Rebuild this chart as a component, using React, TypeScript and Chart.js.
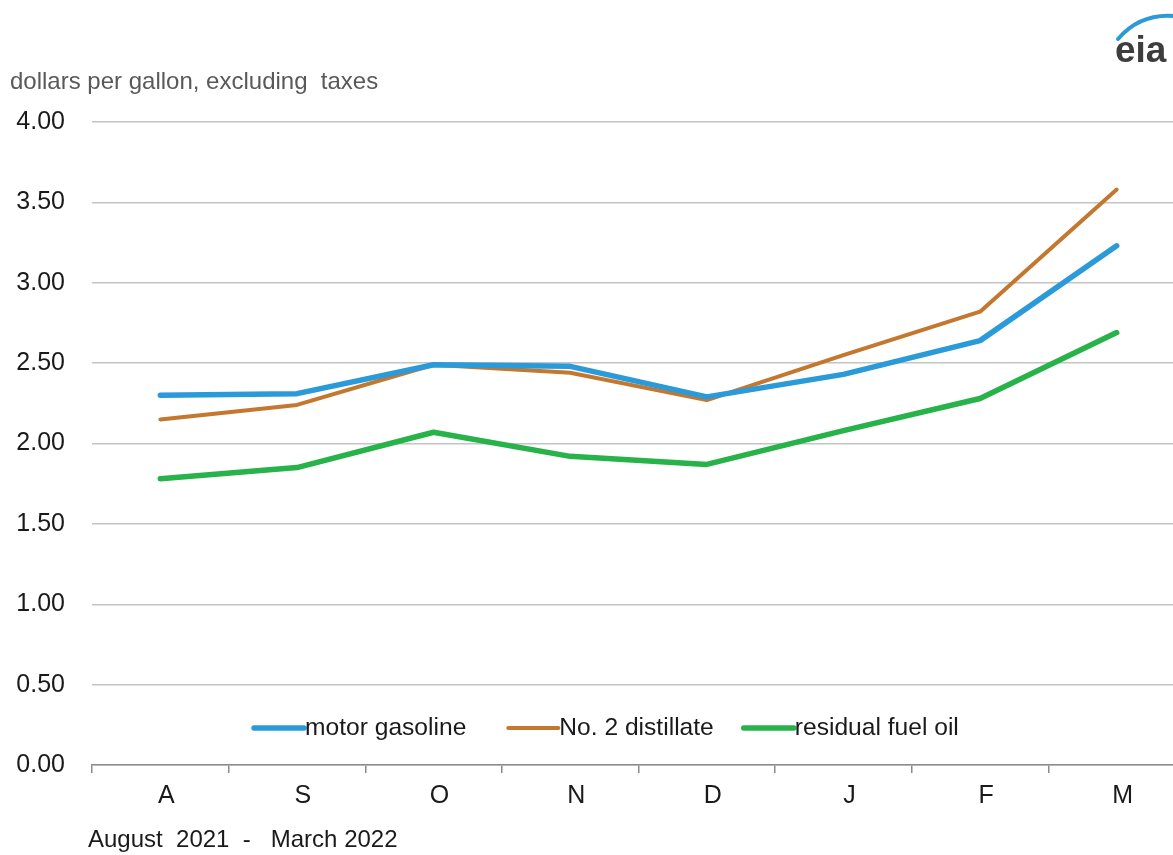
import React, { useEffect, useRef } from "react";
import { Chart, registerables } from "chart.js";

Chart.register(...registerables);

const categories = ["A", "S", "O", "N", "D", "J", "F", "M"];
const motorGasoline = [2.3, 2.31, 2.49, 2.48, 2.29, 2.43, 2.64, 3.23];
const distillate = [2.15, 2.24, 2.49, 2.44, 2.27, 2.55, 2.82, 3.58];
const residualFuel = [1.78, 1.85, 2.07, 1.92, 1.87, 2.08, 2.28, 2.69];
const seriesNames = ["motor gasoline", "No. 2 distillate", "residual fuel oil"];
const yTitle = "dollars per gallon, excluding  taxes";
const periodLabel = "August  2021  -   March 2022";

const FONT = '"Liberation Sans", Arial, sans-serif';

const overlayPlugin = {
  id: "overlay",
  afterDraw(chart: any) {
    const ctx = chart.ctx as CanvasRenderingContext2D;
    ctx.save();
    ctx.textBaseline = "middle";
    ctx.textAlign = "left";
    ctx.font = `24px ${FONT}`;
    ctx.fillStyle = "#595959";
    ctx.fillText(yTitle, 10, 82);
    ctx.fillStyle = "#1a1a1a";
    ctx.fillText(periodLabel, 88, 840);

    // legend
    const legendY = 728;
    const sampleLen = 50;
    const gaps = [42, 30];
    let x = 254;
    chart.data.datasets.forEach((ds: any, i: number) => {
      ctx.strokeStyle = ds.borderColor;
      ctx.lineWidth = ds.borderWidth;
      ctx.lineCap = "round";
      ctx.beginPath();
      ctx.moveTo(x, legendY);
      ctx.lineTo(x + sampleLen, legendY);
      ctx.stroke();
      x += sampleLen + 1;
      ctx.fillStyle = "#1a1a1a";
      ctx.font = `24.6px ${FONT}`;
      ctx.fillText(ds.label, x, legendY);
      x += ctx.measureText(ds.label).width + (gaps[i] || 0);
    });

    // logo
    ctx.strokeStyle = "#2a9ad8";
    ctx.lineWidth = 4;
    ctx.lineCap = "round";
    ctx.beginPath();
    ctx.moveTo(1118, 39);
    ctx.quadraticCurveTo(1140, 13, 1175, 16);
    ctx.stroke();
    ctx.fillStyle = "#3d3d3d";
    ctx.font = `bold 37px ${FONT}`;
    ctx.textBaseline = "alphabetic";
    ctx.fillText("eia", 1115, 62);
    ctx.restore();
  },
};

export default function App() {
  const ref = useRef<HTMLCanvasElement>(null);
  useEffect(() => {
    if (!ref.current) return;
    const colors = ["#2a9ad8", "#c4772e", "#27b24a"];
    const widths = [5.5, 4, 5.5];
    const values = [motorGasoline, distillate, residualFuel];
    const chart = new Chart(ref.current, {
      type: "line",
      data: {
        labels: categories,
        datasets: values.map((v, i) => ({
          label: seriesNames[i],
          data: v,
          borderColor: colors[i],
          backgroundColor: colors[i],
          borderWidth: widths[i],
          pointRadius: 0,
          tension: 0,
          borderCapStyle: "round",
          borderJoinStyle: "round",
        })),
      },
      options: {
        animation: false,
        responsive: false,
        devicePixelRatio: 1,
        layout: { padding: { top: 122, right: 5, bottom: 0, left: 0 } },
        plugins: { legend: { display: false }, tooltip: { enabled: false } },
        scales: {
          x: {
            offset: true,
            grid: {
              offset: true,
              drawOnChartArea: false,
              drawTicks: true,
              tickLength: 8,
              color: "#8c8c8c",
              lineWidth: 1.5,
            },
            border: { display: true, color: "#8c8c8c", width: 1.5 },
            ticks: {
              color: "#1a1a1a",
              font: { family: FONT, size: 25 },
              padding: 8,
              labelOffset: 6,
              maxRotation: 0,
              autoSkip: false,
            },
            afterFit(scale: any) {
              scale.height = 90;
            },
          },
          y: {
            min: 0,
            max: 4,
            grid: { drawTicks: false, color: "#c4c4c4", lineWidth: 1.5 },
            border: { display: false },
            ticks: {
              stepSize: 0.5,
              color: "#1a1a1a",
              font: { family: FONT, size: 25 },
              padding: 27,
              callback: (v: any) => Number(v).toFixed(2),
            },
            afterFit(scale: any) {
              scale.width = 92;
            },
          },
        },
      },
      plugins: [overlayPlugin],
    });
    return () => chart.destroy();
  }, []);
  return (
    <div
      style={{
        position: "absolute",
        left: 0,
        top: 0,
        width: 1173,
        height: 855,
        overflow: "hidden",
        background: "#fff",
      }}
    >
      <canvas
        ref={ref}
        width={1190}
        height={855}
        style={{ display: "block", width: 1190, height: 855 }}
      />
    </div>
  );
}
